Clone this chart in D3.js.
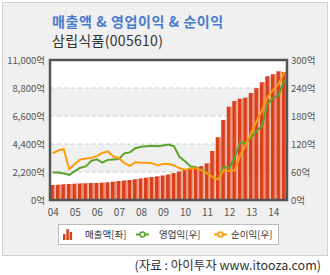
<!DOCTYPE html>
<html><head><meta charset="utf-8">
<script src="https://cdn.jsdelivr.net/npm/d3@7"></script>
<style>
html,body{margin:0;padding:0;background:#fff;}
text{font-family:"Noto Sans CJK KR","Noto Sans",sans-serif;}
</style></head><body>
<svg id="c" width="330" height="275"></svg>
<script>
const yearLabels = ["04","05","06","07","08","09","10","11","12","13","14"];
const sales = [1180,1200,1230,1260,1280,1300,1310,1340,1340,1360,1390,1440,1490,1530,1570,1630,1690,1750,1810,1860,1920,2000,2120,2240,2360,2460,2550,2670,2880,3850,4930,6290,7330,7780,7960,8040,8410,8780,9250,9720,9880,10110,10060];
const opIncome = [59,59,57,54,62,69,72,84,87,80,86,87,88,100,102,111,114,115,116,115,117,119,115,92,83,72,70,65,59,49,45,71,68,91,124,122,134,148,159,207,218,225,257];
const netIncome = [100,106,109,66,77,87,89,90,94,101,104,93,90,79,73,81,80,80,79,74,77,77,74,68,65,68,68,64,57,49,44,64,62,63,96,118,144,169,193,221,236,249,274];
const leftTicks = [0,2200,4400,6600,8800,11000];
const rightTicks = [0,60,120,180,240,300];

const svg = d3.select("#c");
// panel
svg.append("rect").attr("x",2.5).attr("y",2.5).attr("width",325).attr("height",253).attr("fill","#f0f0f0").attr("stroke","#d0d0d0");
svg.append("text").attr("x",52).attr("y",27).attr("font-size",14).attr("font-weight","bold").attr("letter-spacing",0.6).attr("fill","#4a7bd0").text("매출액 & 영업이익 & 순이익");
svg.append("text").attr("x",52).attr("y",46).attr("font-size",14).attr("letter-spacing",0.3).attr("fill","#333").text("삼립식품(005610)");

const L=50,R=287,T=60,B=200;
const quarters = sales.map((d,i)=>i);
const x = d3.scaleBand().domain(quarters).range([L,R]).paddingInner(0.12).paddingOuter(0.05);
const yL = d3.scaleLinear().domain([0,11000]).range([B,T]);
const yR = d3.scaleLinear().domain([0,300]).range([B,T]);

// plot background bands
svg.append("rect").attr("x",L).attr("y",T).attr("width",R-L).attr("height",B-T).attr("fill","#fff");
for(let k=0;k<leftTicks.length-1;k++){
  if(k%2===1){
    svg.append("rect").attr("x",L).attr("y",yL(leftTicks[k+1])).attr("width",R-L)
      .attr("height",yL(leftTicks[k])-yL(leftTicks[k+1])).attr("fill","#f0f0f0");
  }
}
svg.append("g").selectAll("line").data(leftTicks.slice(1,-1)).join("line")
  .attr("x1",L).attr("x2",R).attr("y1",d=>yL(d)).attr("y2",d=>yL(d))
  .attr("stroke","#c8cfc8").attr("stroke-dasharray","4,3");

// bars
const bw = x.bandwidth();
svg.append("g").selectAll("rect").data(sales).join("rect")
  .attr("x",(d,i)=>x(i)).attr("y",d=>yL(d)).attr("width",bw).attr("height",d=>B-yL(d)).attr("fill","#d9401b");
svg.append("g").selectAll("rect").data(sales).join("rect")
  .attr("x",(d,i)=>x(i)+bw-1.3).attr("y",d=>yL(d)).attr("width",1.3).attr("height",d=>B-yL(d)).attr("fill","#ee9c86");

// lines
const cx = i=>x(i)+bw/2;
const line = d3.line().x((d,i)=>cx(i)).y(d=>yR(d));
svg.append("path").datum(opIncome).attr("d",line).attr("fill","none").attr("stroke","#5ba22a").attr("stroke-width",2);
svg.append("path").datum(netIncome).attr("d",line).attr("fill","none").attr("stroke","#ff9a0a").attr("stroke-width",2);

// frame
svg.append("rect").attr("x",L).attr("y",T).attr("width",R-L).attr("height",B-T).attr("fill","none").attr("stroke","#555").attr("stroke-width",2.5);

// axes
const fmt = d3.format(",");
const axL = svg.append("g").attr("transform",`translate(${L-5},0)`).call(d3.axisLeft(yL).tickValues(leftTicks).tickSize(0).tickFormat(d=>fmt(d)+"억"));
const axR = svg.append("g").attr("transform",`translate(${R+3},0)`).call(d3.axisRight(yR).tickValues(rightTicks).tickSize(0).tickFormat(d=>d+"억"));
const xYear = d3.scalePoint().domain(yearLabels).range([cx(0),cx(40)]);
const axB = svg.append("g").attr("transform",`translate(0,${B+4})`).call(d3.axisBottom(xYear).tickSize(0));
[axL,axR,axB].forEach(a=>{a.select(".domain").remove();a.selectAll("text").attr("font-size",9.5).attr("fill","#555").attr("font-family","'Noto Sans CJK KR',sans-serif");});
axL.selectAll("text").attr("dx",3);
axR.selectAll("text").attr("dx",-2);
axB.selectAll("text").attr("font-size",10).attr("dy","0.9em");

// legend
svg.append("rect").attr("x",58.5).attr("y",224.5).attr("width",220).attr("height",20).attr("fill","#fff").attr("stroke","#bbb");
const lg = svg.append("g");
const iconH=[6,11,8];
lg.selectAll("rect.ic").data(iconH).join("rect").attr("x",(d,i)=>63+i*3.3).attr("y",d=>240-d).attr("width",2.5).attr("height",d=>d).attr("fill","#d9401b");
lg.append("text").attr("x",85).attr("y",238).attr("font-size",9.5).attr("fill","#333").text("매출액[좌]");
const items=[{x:136,c:"#5ba22a",t:"영업익[우]",tx:159},{x:214,c:"#ff9a0a",t:"순이익[우]",tx:231}];
items.forEach(it=>{
  lg.append("line").attr("x1",it.x).attr("x2",it.x+13).attr("y1",234.5).attr("y2",234.5).attr("stroke",it.c).attr("stroke-width",2);
  lg.append("circle").attr("cx",it.x+6.5).attr("cy",234.5).attr("r",2.5).attr("fill","#fff").attr("stroke",it.c).attr("stroke-width",1.5);
  lg.append("text").attr("x",it.tx).attr("y",238).attr("font-size",9.5).attr("fill","#333").text(it.t);
});
svg.append("text").attr("x",321).attr("y",269.5).attr("text-anchor","end").attr("font-size",12.5).attr("fill","#333").text("(자료 : 아이투자 www.itooza.com)");
</script></body></html>
